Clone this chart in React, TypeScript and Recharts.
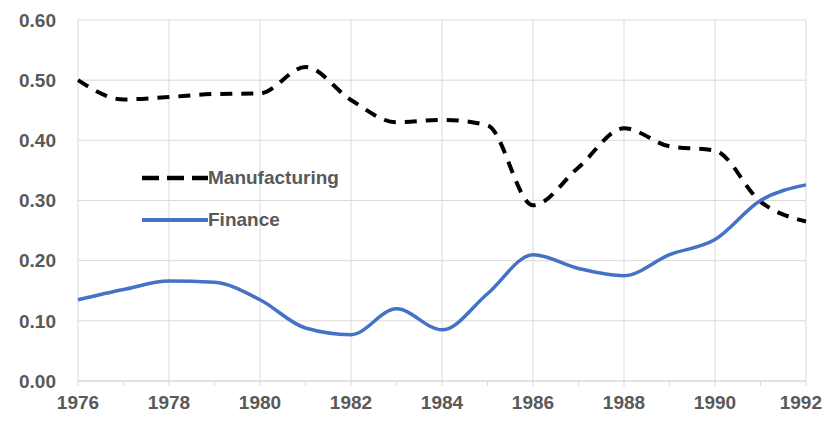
import {
  LineChart, Line, XAxis, YAxis, CartesianGrid,
} from 'recharts'

const YEARS = [1976, 1977, 1978, 1979, 1980, 1981, 1982, 1983, 1984, 1985, 1986, 1987, 1988, 1989, 1990, 1991, 1992]
const MANUFACTURING = [0.5, 0.468, 0.472, 0.477, 0.478, 0.522, 0.467, 0.43, 0.434, 0.425, 0.292, 0.355, 0.42, 0.39, 0.383, 0.298, 0.265]
const FINANCE = [0.135, 0.152, 0.166, 0.164, 0.135, 0.088, 0.077, 0.12, 0.085, 0.145, 0.21, 0.187, 0.175, 0.21, 0.235, 0.3, 0.326]
const Y_TICKS = [0, 0.1, 0.2, 0.3, 0.4, 0.5, 0.6]
const GRID_YEARS = [1976, 1978, 1980, 1982, 1984, 1986, 1988, 1990, 1992]

const data = YEARS.map((year, i) => ({
  year,
  manufacturing: MANUFACTURING[i],
  finance: FINANCE[i],
}))

const TEXT = '#595959'
const GRID = '#d9d9d9'
const FONT = '"Liberation Sans", Arial, sans-serif'
const TICK_FONT = 19

// legend sits inside the plot area, so it is drawn as an overlay
function ChartLegend() {
  const rows = [
    { label: 'Manufacturing', color: '#000000', dash: '17 8', width: 4.5 },
    { label: 'Finance', color: '#4472c4', dash: undefined, width: 4 },
  ]
  return (
    <div style={{ position: 'absolute', left: 142, top: 166, fontFamily: FONT }}>
      {rows.map(r => (
        <div key={r.label} style={{ display: 'flex', alignItems: 'center', height: 24, marginBottom: 18 }}>
          <svg width={66} height={10}>
            <line x1={0} y1={5} x2={66} y2={5} stroke={r.color} strokeWidth={r.width} strokeDasharray={r.dash} />
          </svg>
          <span style={{ color: TEXT, fontWeight: 'bold', fontSize: 19 }}>{r.label}</span>
        </div>
      ))}
    </div>
  )
}

// year labels only on even years; the last one is kept clear of the right edge
function YearTick({ x, y, payload }: any) {
  const v = payload.value as number
  if (v % 2 !== 0) return null
  const half = 21
  const right = 822
  const anchorEnd = x + half > right
  return (
    <text
      x={anchorEnd ? right : x}
      y={y + 8}
      dy="0.71em"
      textAnchor={anchorEnd ? 'end' : 'middle'}
      fill={TEXT}
      fontSize={TICK_FONT}
      fontWeight="bold"
      fontFamily={FONT}
    >
      {v}
    </text>
  )
}

export default function App() {
  // cancel the body margin so the chart uses the whole window
  return (
    <div style={{ position: 'relative', width: 831, height: 421, margin: -8, overflow: 'hidden' }}>
      <LineChart width={831} height={421} data={data} margin={{ top: 20, right: 25, bottom: 8, left: 8 }}>
        <CartesianGrid stroke={GRID} horizontalValues={Y_TICKS} verticalValues={GRID_YEARS} />
        <XAxis
          dataKey="year"
          type="number"
          domain={[1976, 1992]}
          ticks={YEARS}
          interval={0}
          axisLine={{ stroke: GRID }}
          tickLine={{ stroke: GRID }}
          tickSize={5}
          height={32}
          tick={<YearTick />}
        />
        <YAxis
          type="number"
          domain={[0, 0.6]}
          ticks={Y_TICKS}
          tickFormatter={v => v.toFixed(2)}
          axisLine={false}
          tickLine={false}
          tickMargin={16}
          width={70}
          tick={{ fill: TEXT, fontSize: TICK_FONT, fontWeight: 'bold', fontFamily: FONT }}
        />
        <Line
          type="monotone"
          dataKey="manufacturing"
          stroke="#000000"
          strokeWidth={4}
          strokeDasharray="12 9"
          dot={false}
          isAnimationActive={false}
        />
        <Line
          type="monotone"
          dataKey="finance"
          stroke="#4472c4"
          strokeWidth={3.5}
          dot={false}
          isAnimationActive={false}
        />
      </LineChart>
      <ChartLegend />
    </div>
  )
}
